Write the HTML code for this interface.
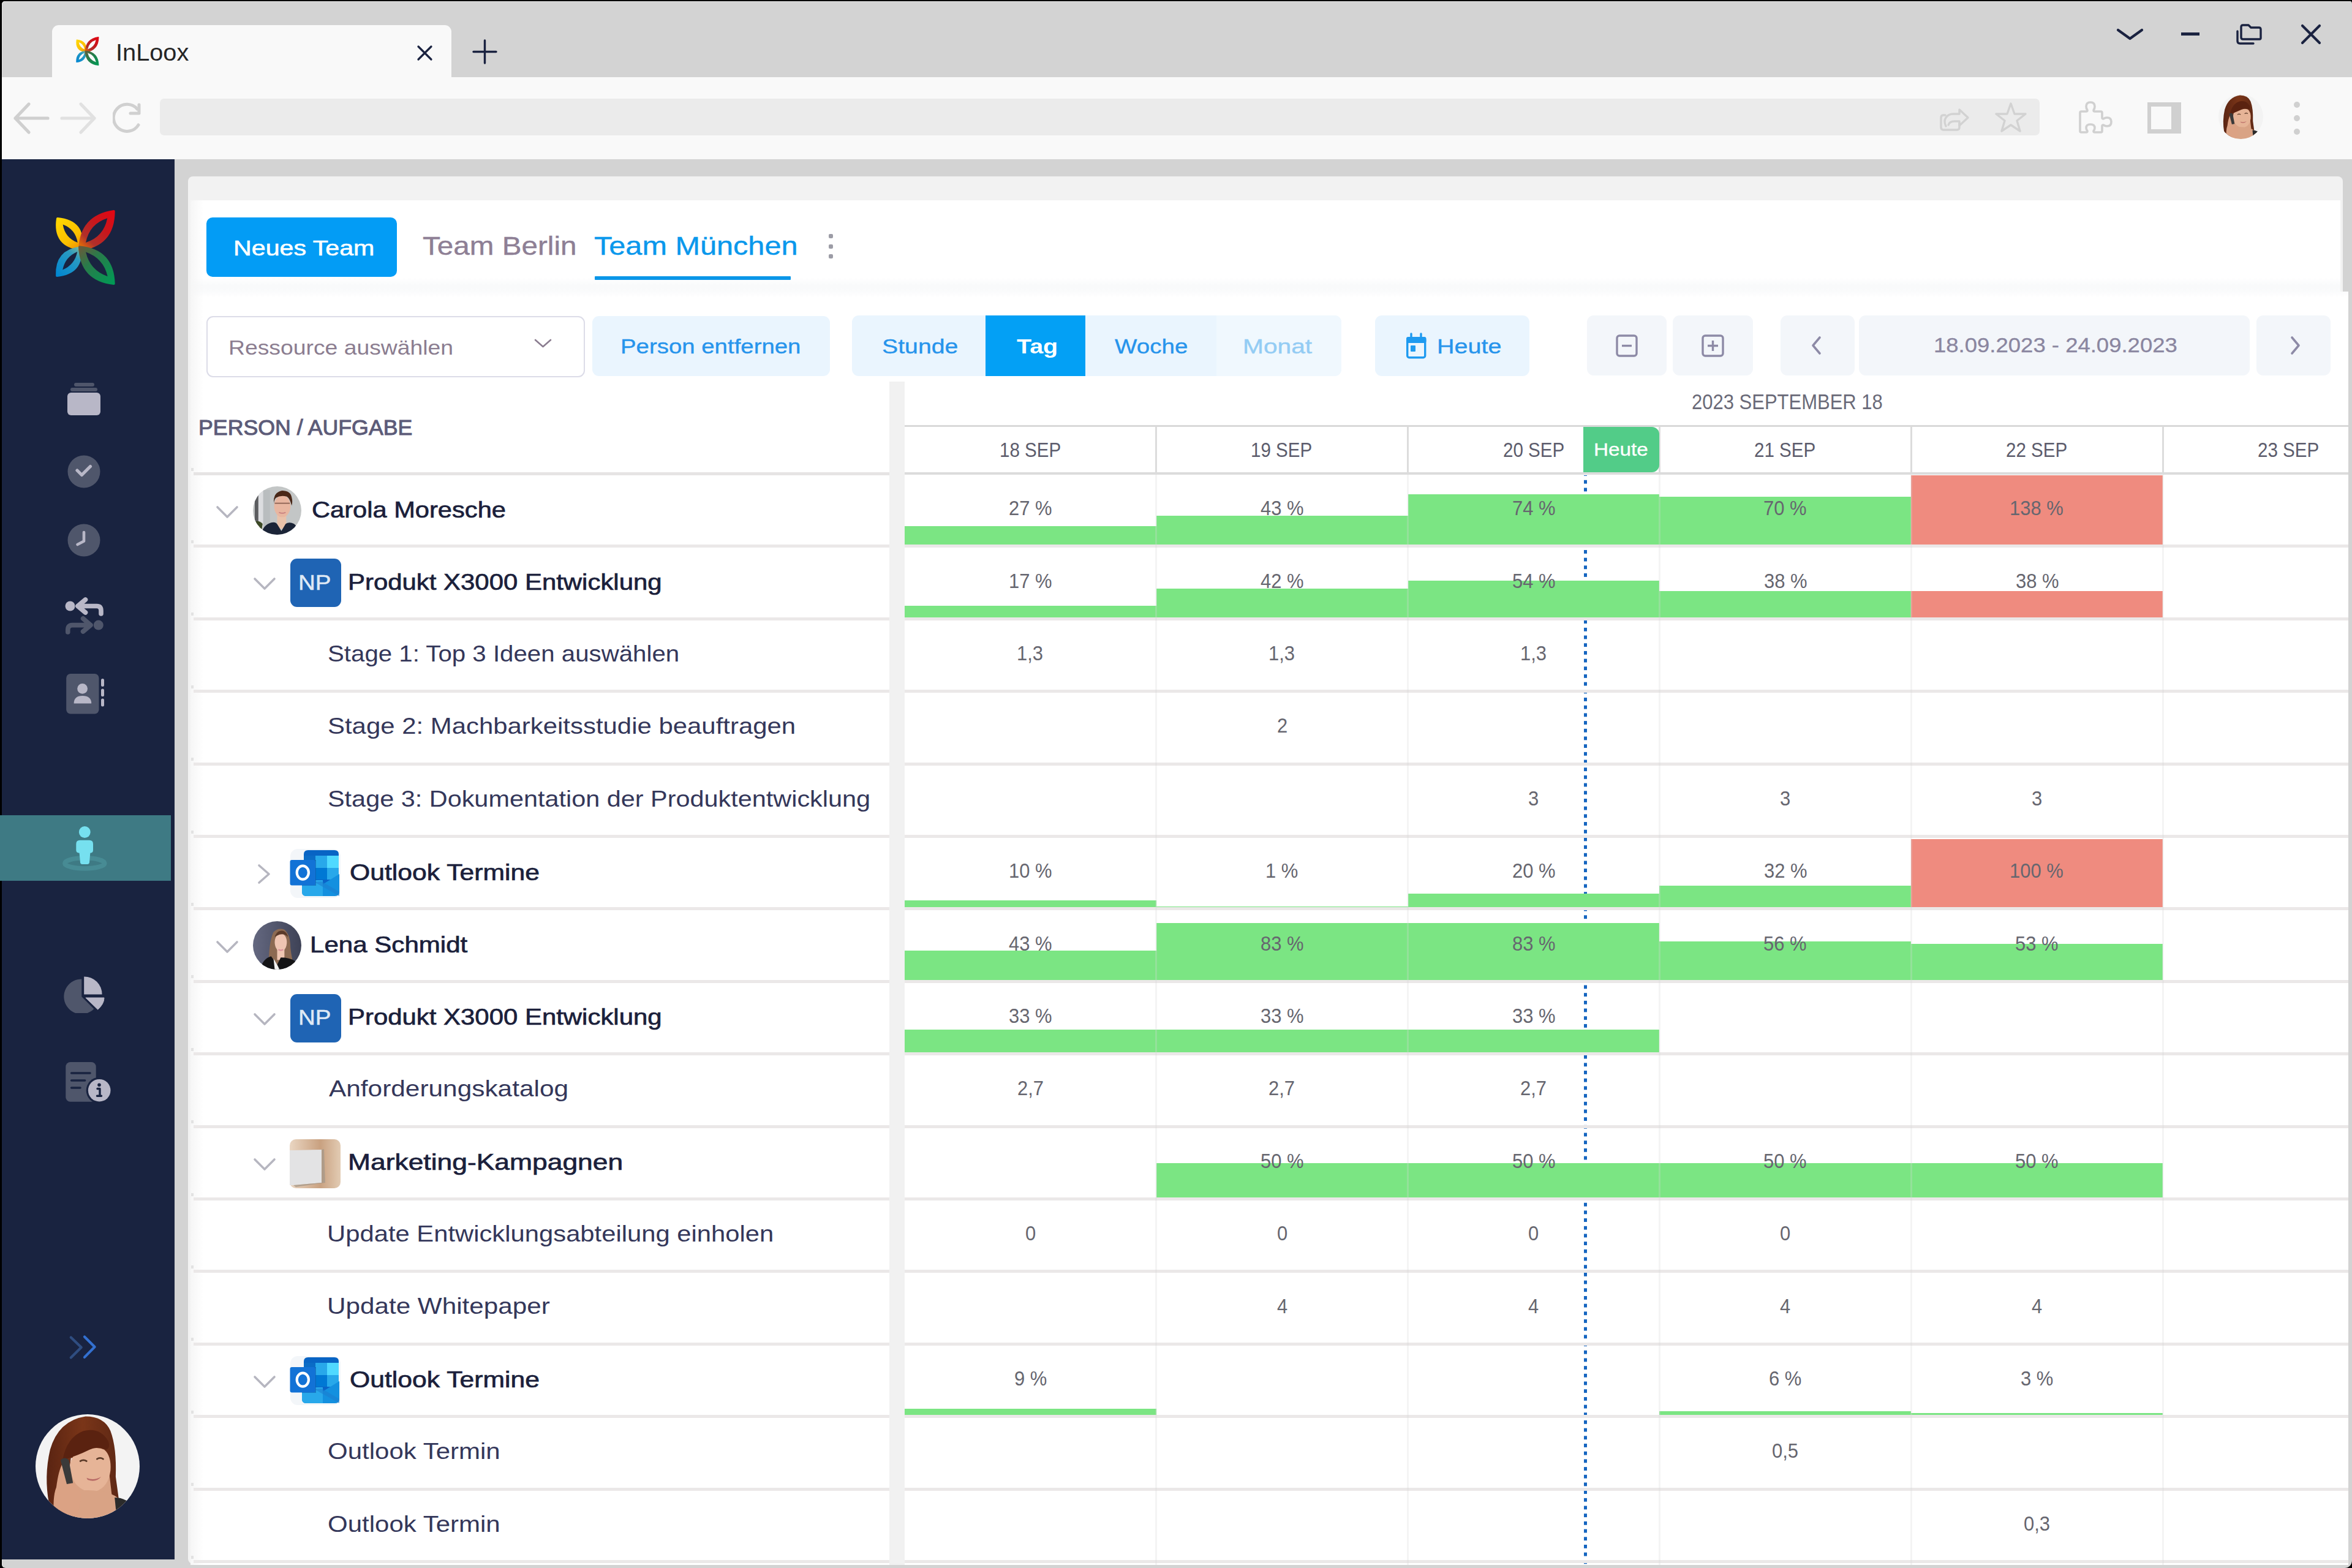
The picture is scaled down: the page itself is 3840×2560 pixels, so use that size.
<!DOCTYPE html>
<html><head><meta charset="utf-8"><title>InLoox</title>
<style>html,body{margin:0;padding:0}body{width:3840px;height:2560px;position:relative;overflow:hidden;background:#000;font-family:'Liberation Sans',sans-serif;}</style>
</head><body>
<div style="position:absolute;left:3.0px;top:2.0px;width:3837.0px;height:2558.0px;background:#d3d3d3;border-radius:5px 4px 12px 6px;box-shadow:inset 1px 1px 0 #e2e2e2;"></div><div style="position:absolute;left:85.0px;top:41.0px;width:652.0px;height:85.0px;background:#f9f9f9;border-radius:11px 11px 0 0;"></div><div style="position:absolute;left:3.0px;top:126.0px;width:3837.0px;height:134.0px;background:#f9f9f9;"></div><div style="position:absolute;left:261.0px;top:161.0px;width:3069.0px;height:60.0px;background:#ebebeb;border-radius:7px;"></div><svg style="position:absolute;left:120.1px;top:55.4px;" width="46.2" height="55.8" viewBox="0 0 1298 1568"><defs>
<linearGradient id="yt" gradientUnits="userSpaceOnUse" x1="560" y1="820" x2="150" y2="300"><stop offset="0" stop-color="#f08c00"/><stop offset="0.35" stop-color="#fbbf00"/><stop offset="1" stop-color="#ffd600"/></linearGradient>
<linearGradient id="rt" gradientUnits="userSpaceOnUse" x1="540" y1="820" x2="1150" y2="160"><stop offset="0" stop-color="#f07a00"/><stop offset="0.25" stop-color="#b0302a"/><stop offset="0.6" stop-color="#c8161c"/><stop offset="1" stop-color="#e30613"/></linearGradient>
<linearGradient id="bt" gradientUnits="userSpaceOnUse" x1="560" y1="800" x2="140" y2="1300"><stop offset="0" stop-color="#7ab8a0"/><stop offset="0.3" stop-color="#2a9ac0"/><stop offset="1" stop-color="#0086d2"/></linearGradient>
<linearGradient id="gt" gradientUnits="userSpaceOnUse" x1="540" y1="800" x2="1150" y2="1440"><stop offset="0" stop-color="#6a5a3a"/><stop offset="0.35" stop-color="#2a7a4a"/><stop offset="1" stop-color="#009a55"/></linearGradient>
</defs><path d="M150 290Q76 772 560 830Q650 336 150 290Z M245 395Q282 631 505 715Q468 479 245 395Z" fill="url(#yt)" fill-rule="evenodd"/><path d="M150 290Q76 772 560 830Q650 336 150 290Z" fill="none" stroke="url(#yt)" stroke-width="40" stroke-linejoin="round"/><path d="M140 1300Q595 1256 560 800Q120 857 140 1300Z M240 1195Q455 1104 500 875Q285 966 240 1195Z" fill="url(#bt)" fill-rule="evenodd"/><path d="M140 1300Q595 1256 560 800Q120 857 140 1300Z" fill="none" stroke="url(#bt)" stroke-width="40" stroke-linejoin="round"/><path d="M1145 160Q559 247 540 840Q1141 766 1145 160Z M1030 285Q713 387 650 715Q967 613 1030 285Z" fill="url(#rt)" fill-rule="evenodd"/><path d="M1145 160Q559 247 540 840Q1141 766 1145 160Z" fill="none" stroke="url(#rt)" stroke-width="40" stroke-linejoin="round"/><path d="M1145 1440Q1128 849 540 790Q564 1374 1145 1440Z M1035 1310Q962 988 650 880Q723 1202 1035 1310Z" fill="url(#gt)" fill-rule="evenodd"/><path d="M1145 1440Q1128 849 540 790Q564 1374 1145 1440Z" fill="none" stroke="url(#gt)" stroke-width="40" stroke-linejoin="round"/></svg><svg style="position:absolute;left:680px;top:73px;" width="27" height="27" viewBox="0 0 27 27"><path d="M3 3L24 24M24 3L3 24" stroke="#1a2240" stroke-width="3.2" stroke-linecap="round"/></svg><svg style="position:absolute;left:771px;top:64px;" width="41" height="41" viewBox="0 0 41 41"><path d="M20.5 2V39M2 20.5H39" stroke="#1a2240" stroke-width="3.4" stroke-linecap="round"/></svg><svg style="position:absolute;left:3455px;top:45px;" width="45" height="22" viewBox="0 0 45 22"><path d="M3 4L22.5 18L42 4" fill="none" stroke="#1a2240" stroke-width="4.2" stroke-linecap="round" stroke-linejoin="round"/></svg><div style="position:absolute;left:3561.0px;top:53.0px;width:30.0px;height:4.5px;background:#1a2240;"></div><svg style="position:absolute;left:3649px;top:38px;" width="46" height="36" viewBox="0 0 46 36"><path d="M10 10V6Q10 3 13 3H22L26 7H39Q42 7 42 10V24Q42 26 40 26H13Q10 26 10 23V10Z" fill="none" stroke="#1a2240" stroke-width="3.4" stroke-linejoin="round"/><path d="M4 13V29Q4 33 8 33H30" fill="none" stroke="#1a2240" stroke-width="3.4" stroke-linecap="round"/></svg><svg style="position:absolute;left:3756px;top:39px;" width="34" height="34" viewBox="0 0 34 34"><path d="M3 3L31 31M31 3L3 31" stroke="#1a2240" stroke-width="4.2" stroke-linecap="round"/></svg><svg style="position:absolute;left:20px;top:166px;" width="62" height="54" viewBox="0 0 62 54"><path d="M27 4L5 27L27 50M5 27H58" fill="none" stroke="#cfcfcf" stroke-width="5.2" stroke-linecap="round" stroke-linejoin="round"/></svg><svg style="position:absolute;left:97px;top:166px;" width="62" height="54" viewBox="0 0 62 54"><path d="M35 4L57 27L35 50M57 27H4" fill="none" stroke="#e1e1e1" stroke-width="5.2" stroke-linecap="round" stroke-linejoin="round"/></svg><svg style="position:absolute;left:184px;top:166px;" width="54" height="54" viewBox="0 0 54 54"><path d="M42 38A22 22 0 1 1 40 12" fill="none" stroke="#d0d0d0" stroke-width="5" stroke-linecap="round"/><path d="M43 5V19H29" fill="none" stroke="#d0d0d0" stroke-width="5" stroke-linecap="round" stroke-linejoin="round"/></svg><svg style="position:absolute;left:3165px;top:168px;" width="54" height="48" viewBox="0 0 54 48"><path d="M11 20H8Q4 20 4 24V40Q4 44 8 44H30Q34 44 34 40V33" fill="none" stroke="#d2d2d2" stroke-width="3.4" stroke-linecap="round"/><path d="M12 38Q8 30 12 24Q16 18 24 18H34V11L48 24L34 37V30H26Q18 30 16 36" fill="none" stroke="#d2d2d2" stroke-width="3.4" stroke-linejoin="round" stroke-linecap="round"/></svg><svg style="position:absolute;left:3257px;top:165px;" width="52" height="52" viewBox="0 0 52 52"><path d="M26 4L32 21H50L36 32L41 49L26 39L11 49L16 32L2 21H20Z" fill="none" stroke="#d2d2d2" stroke-width="3.4" stroke-linejoin="round"/></svg><svg style="position:absolute;left:3392px;top:158px;" width="64" height="62" viewBox="0 0 64 62"><path d="M6 24H14Q16 24 16 22Q14 19 14 16Q14 9 21 9Q28 9 28 16Q28 19 26 22Q26 24 28 24H38Q40 24 40 26V34Q40 36 42 36Q45 34 48 34Q55 34 55 41Q55 48 48 48Q45 48 42 46Q40 46 40 48V56Q40 58 38 58H28Q26 58 26 56Q28 53 28 51Q28 45 21 45Q14 45 14 51Q14 53 16 56Q16 58 14 58H6Q4 58 4 56V26Q4 24 6 24Z" fill="none" stroke="#d0d0d0" stroke-width="3.6" stroke-linejoin="round"/></svg><div style="position:absolute;left:3506.0px;top:167.0px;width:55.0px;height:51.0px;background:#d0d0d0;"></div><div style="position:absolute;left:3512.0px;top:174.0px;width:33.0px;height:37.0px;background:#f9f9f9;"></div><div style="position:absolute;left:3745px;top:166px;width:10px;height:10px;border-radius:50%;background:#d0d0d0"></div><div style="position:absolute;left:3745px;top:188px;width:10px;height:10px;border-radius:50%;background:#d0d0d0"></div><div style="position:absolute;left:3745px;top:210px;width:10px;height:10px;border-radius:50%;background:#d0d0d0"></div><svg style="position:absolute;left:3622px;top:154px;" width="73" height="73" viewBox="0 0 100 100"><defs><clipPath id="cw3622"><circle cx="50" cy="50" r="50"/></clipPath>
<linearGradient id="hw3622" x1="0" y1="0" x2="1" y2="0"><stop offset="0" stop-color="#5a2412"/><stop offset="0.5" stop-color="#7a3518"/><stop offset="1" stop-color="#5e2815"/></linearGradient></defs>
<g clip-path="url(#cw3622)">
<rect width="100" height="100" fill="#f3f3f3"/>
<path d="M13 86Q8 60 14 34Q22 6 48 2Q66 2 72 16Q78 32 77 60Q79 74 80 82L70 84Q66 60 66 40L34 42Q30 70 30 100H16Z" fill="url(#hw3622)"/>
<path d="M34 56L70 50L74 84L32 86Z" fill="#d9a385"/>
<path d="M33 50Q34 38 44 36Q58 30 66 34Q73 40 72 54Q70 70 58 74Q46 76 38 66Q34 60 33 50Z" fill="#e6b497"/>
<path d="M26 44Q30 22 46 16Q62 12 70 26Q72 32 68 34Q60 30 52 34Q40 40 26 44Z" fill="#5a2210"/>
<path d="M28 100Q26 84 36 74Q50 72 62 74Q78 76 84 86L86 100Z" fill="#d9a385"/>
<path d="M18 100Q16 80 20 70Q22 54 26 47Q30 44 31 52Q32 62 36 66Q42 70 44 78Q42 90 40 100Z" fill="#dba284"/>
<path d="M24 44Q28 40 32 44L36 66L30 67Z" fill="#3a3a3a"/>
<path d="M76 80Q88 80 94 90L96 100H78Z" fill="#2b2b2b"/>
<path d="M49 61Q56 64 63 60Q58 66 50 63Z" fill="#b86a66"/>
<path d="M43 45Q46 43 49 45M59 43Q62 41 65 43" fill="none" stroke="#5a3a28" stroke-width="1.6" stroke-linecap="round"/>
</g></svg><div style="position:absolute;left:3.0px;top:260.0px;width:282.0px;height:2286.0px;background:#192340;"></div><svg style="position:absolute;left:80px;top:330px;" width="120" height="145" viewBox="0 0 1298 1568"><defs>
<linearGradient id="ys" gradientUnits="userSpaceOnUse" x1="560" y1="820" x2="150" y2="300"><stop offset="0" stop-color="#f08c00"/><stop offset="0.35" stop-color="#fbbf00"/><stop offset="1" stop-color="#ffd600"/></linearGradient>
<linearGradient id="rs" gradientUnits="userSpaceOnUse" x1="540" y1="820" x2="1150" y2="160"><stop offset="0" stop-color="#f07a00"/><stop offset="0.25" stop-color="#b0302a"/><stop offset="0.6" stop-color="#c8161c"/><stop offset="1" stop-color="#e30613"/></linearGradient>
<linearGradient id="bs" gradientUnits="userSpaceOnUse" x1="560" y1="800" x2="140" y2="1300"><stop offset="0" stop-color="#7ab8a0"/><stop offset="0.3" stop-color="#2a9ac0"/><stop offset="1" stop-color="#0086d2"/></linearGradient>
<linearGradient id="gs" gradientUnits="userSpaceOnUse" x1="540" y1="800" x2="1150" y2="1440"><stop offset="0" stop-color="#6a5a3a"/><stop offset="0.35" stop-color="#2a7a4a"/><stop offset="1" stop-color="#009a55"/></linearGradient>
</defs><path d="M150 290Q76 772 560 830Q650 336 150 290Z M245 395Q282 631 505 715Q468 479 245 395Z" fill="url(#ys)" fill-rule="evenodd"/><path d="M150 290Q76 772 560 830Q650 336 150 290Z" fill="none" stroke="url(#ys)" stroke-width="40" stroke-linejoin="round"/><path d="M140 1300Q595 1256 560 800Q120 857 140 1300Z M240 1195Q455 1104 500 875Q285 966 240 1195Z" fill="url(#bs)" fill-rule="evenodd"/><path d="M140 1300Q595 1256 560 800Q120 857 140 1300Z" fill="none" stroke="url(#bs)" stroke-width="40" stroke-linejoin="round"/><path d="M1145 160Q559 247 540 840Q1141 766 1145 160Z M1030 285Q713 387 650 715Q967 613 1030 285Z" fill="url(#rs)" fill-rule="evenodd"/><path d="M1145 160Q559 247 540 840Q1141 766 1145 160Z" fill="none" stroke="url(#rs)" stroke-width="40" stroke-linejoin="round"/><path d="M1145 1440Q1128 849 540 790Q564 1374 1145 1440Z M1035 1310Q962 988 650 880Q723 1202 1035 1310Z" fill="url(#gs)" fill-rule="evenodd"/><path d="M1145 1440Q1128 849 540 790Q564 1374 1145 1440Z" fill="none" stroke="url(#gs)" stroke-width="40" stroke-linejoin="round"/></svg><div style="position:absolute;left:120.6px;top:625.4px;width:33.0px;height:5.2px;background:#4f566b;border-radius:3px;"></div><div style="position:absolute;left:115.3px;top:633.3px;width:43.3px;height:5.4px;background:#4f566b;border-radius:3px;"></div><div style="position:absolute;left:110.4px;top:641.2px;width:53.3px;height:37.0px;background:#b8b7c7;border-radius:6px;"></div><svg style="position:absolute;left:110px;top:743px;" width="54" height="54" viewBox="0 0 54 54"><circle cx="27" cy="27" r="26.5" fill="#4f566b"/><path d="M16 25L23.5 32.5L37.5 18.5" fill="none" stroke="#b8b7c7" stroke-width="5.2" stroke-linecap="round" stroke-linejoin="round"/></svg><svg style="position:absolute;left:110px;top:855px;" width="54" height="54" viewBox="0 0 54 54"><circle cx="27" cy="27" r="26.5" fill="#4f566b"/><path d="M27 14V28.5L16.5 34" fill="none" stroke="#b8b7c7" stroke-width="4.6" stroke-linecap="round" stroke-linejoin="round"/></svg><svg style="position:absolute;left:104px;top:974px;" width="66" height="64" viewBox="0 0 66 64"><circle cx="10.5" cy="15.5" r="8" fill="#b8b7c7"/><path d="M35.5 5L23 15.5L35.5 26M23 15.5H54Q61 15.5 61 23V28" fill="none" stroke="#b8b7c7" stroke-width="7.6" stroke-linecap="round" stroke-linejoin="round"/><circle cx="56.8" cy="46.6" r="8" fill="#4f566b"/><path d="M31.6 35.8L44 46.6L31.6 57M44 46.6H14Q6.8 46.6 6.8 54V58" fill="none" stroke="#4f566b" stroke-width="7.6" stroke-linecap="round" stroke-linejoin="round"/></svg><svg style="position:absolute;left:106px;top:1098px;" width="68" height="70" viewBox="0 0 68 70"><rect x="2.2" y="2" width="53.3" height="65.5" rx="7" fill="#4f566b"/><circle cx="28.6" cy="26.4" r="8.4" fill="#b8b7c7"/><path d="M14.6 50.6Q14.6 38 28.6 38Q43.2 38 43.2 50.6Z" fill="#b8b7c7"/><path d="M61.5 12.5V20.5M61.5 29V36.7M61.5 45V53" stroke="#b8b7c7" stroke-width="5" stroke-linecap="round"/></svg><div style="position:absolute;left:0.0px;top:1331.3px;width:279.0px;height:107.1px;background:#3e7a84;"></div><svg style="position:absolute;left:96px;top:1344px;" width="86" height="86" viewBox="0 0 86 86"><ellipse cx="42.3" cy="65.4" rx="32.5" ry="8.6" fill="none" stroke="#478b94" stroke-width="7.5"/><circle cx="42.3" cy="14.5" r="9.4" fill="#76e0ef"/><path d="M28.3 34Q28.3 27.8 34.5 27.8H50Q56 27.8 56 34V44Q56 48.6 51.3 48.7L50 64Q49.6 67 46.5 67H38.3Q35.3 67 35 64L33.6 48.7Q28.3 48.6 28.3 44Z" fill="#76e0ef"/></svg><svg style="position:absolute;left:100px;top:1590px;" width="76" height="64" viewBox="0 0 76 64"><path d="M33.3 8.5A28.6 28.6 0 1 0 53.3 57.2L33.3 37.2Z" fill="#4f566b"/><path d="M37.2 4.4A29 29 0 0 1 66.6 33.6H37.2Z" fill="#b8b7c7"/><path d="M39.9 39H70Q70 49 59.7 58.2Z" fill="#b8b7c7" stroke="#b8b7c7" stroke-width="1" stroke-linejoin="round"/></svg><svg style="position:absolute;left:104px;top:1730px;" width="80" height="74" viewBox="0 0 80 74"><rect x="3.3" y="4" width="49.4" height="64.8" rx="7.5" fill="#4f566b"/><path d="M12.7 22H43M12.7 34H34.6M12.7 46H27" stroke="#192340" stroke-width="3.6" stroke-linecap="round"/><circle cx="58.2" cy="50.2" r="21.5" fill="#192340"/><circle cx="58.2" cy="50.2" r="18.3" fill="#b8b7c7"/><circle cx="58" cy="41.2" r="2.8" fill="#192340"/><path d="M55 47.5H59V59M54.5 59.3H61.5" fill="none" stroke="#192340" stroke-width="3.4" stroke-linecap="round" stroke-linejoin="round"/></svg><svg style="position:absolute;left:108px;top:2176px;" width="54" height="46" viewBox="0 0 54 46"><path d="M7.8 7.5L24.7 23.8L7.8 40.6" fill="none" stroke="#2f4d80" stroke-width="4.2" stroke-linecap="round" stroke-linejoin="round"/><path d="M30 6.4L46.6 23L30 39.9" fill="none" stroke="#3370d0" stroke-width="4.2" stroke-linecap="round" stroke-linejoin="round"/></svg><svg style="position:absolute;left:58px;top:2309px;" width="170" height="170" viewBox="0 0 100 100"><defs><clipPath id="cw58"><circle cx="50" cy="50" r="50"/></clipPath>
<linearGradient id="hw58" x1="0" y1="0" x2="1" y2="0"><stop offset="0" stop-color="#5a2412"/><stop offset="0.5" stop-color="#7a3518"/><stop offset="1" stop-color="#5e2815"/></linearGradient></defs>
<g clip-path="url(#cw58)">
<rect width="100" height="100" fill="#f3f3f3"/>
<path d="M13 86Q8 60 14 34Q22 6 48 2Q66 2 72 16Q78 32 77 60Q79 74 80 82L70 84Q66 60 66 40L34 42Q30 70 30 100H16Z" fill="url(#hw58)"/>
<path d="M34 56L70 50L74 84L32 86Z" fill="#d9a385"/>
<path d="M33 50Q34 38 44 36Q58 30 66 34Q73 40 72 54Q70 70 58 74Q46 76 38 66Q34 60 33 50Z" fill="#e6b497"/>
<path d="M26 44Q30 22 46 16Q62 12 70 26Q72 32 68 34Q60 30 52 34Q40 40 26 44Z" fill="#5a2210"/>
<path d="M28 100Q26 84 36 74Q50 72 62 74Q78 76 84 86L86 100Z" fill="#d9a385"/>
<path d="M18 100Q16 80 20 70Q22 54 26 47Q30 44 31 52Q32 62 36 66Q42 70 44 78Q42 90 40 100Z" fill="#dba284"/>
<path d="M24 44Q28 40 32 44L36 66L30 67Z" fill="#3a3a3a"/>
<path d="M76 80Q88 80 94 90L96 100H78Z" fill="#2b2b2b"/>
<path d="M49 61Q56 64 63 60Q58 66 50 63Z" fill="#b86a66"/>
<path d="M43 45Q46 43 49 45M59 43Q62 41 65 43" fill="none" stroke="#5a3a28" stroke-width="1.6" stroke-linecap="round"/>
</g></svg><div style="position:absolute;left:307.0px;top:288.0px;width:3518.0px;height:2265.0px;background:#f2f2f2;border-radius:8px 8px 0 8px;"></div><div style="position:absolute;left:311.0px;top:327.0px;width:3510.0px;height:159.0px;background:#ffffff;border-radius:6px 0 0 0;"></div><div style="position:absolute;left:311.0px;top:453.0px;width:3510.0px;height:33.0px;background:linear-gradient(#ffffff,#f9fafb 40%,#fbfcfc);"></div><div style="position:absolute;left:311.0px;top:476.0px;width:3523.0px;height:2079.0px;background:#ffffff;"></div><div style="position:absolute;left:311.0px;top:476.0px;width:3523.0px;height:10.0px;background:linear-gradient(#fafbfc,#ffffff);"></div><div style="position:absolute;left:311.0px;top:327.0px;width:21.0px;height:2228.0px;background:linear-gradient(90deg,#f6f6f6,rgba(255,255,255,0));"></div><div style="position:absolute;left:336.5px;top:355.0px;width:311.5px;height:97.0px;background:#039cf5;border-radius:10px;"></div><div style="position:absolute;left:971.0px;top:451.0px;width:320.0px;height:6.0px;background:#0b96e8;border-radius:1px;"></div><div style="position:absolute;left:1352.5px;top:381.5px;width:7px;height:7px;border-radius:2px;background:#9c9ca6"></div><div style="position:absolute;left:1352.5px;top:398.5px;width:7px;height:7px;border-radius:2px;background:#9c9ca6"></div><div style="position:absolute;left:1352.5px;top:414.5px;width:7px;height:7px;border-radius:2px;background:#9c9ca6"></div><div style="position:absolute;left:337.0px;top:516.0px;width:618.0px;height:100.0px;background:#ffffff;border:2px solid #dcdce8;border-radius:11px;box-sizing:border-box;"></div><svg style="position:absolute;left:870px;top:550px;" width="34" height="22" viewBox="0 0 34 22"><path d="M4 5L16.5 16L29 5" fill="none" stroke="#8b7d90" stroke-width="2.6" stroke-linecap="round" stroke-linejoin="round"/></svg><div style="position:absolute;left:967.0px;top:516.0px;width:388.0px;height:98.0px;background:#eaf5fe;border-radius:11px;"></div><div style="position:absolute;left:1391.0px;top:515.0px;width:799.0px;height:99.0px;background:#eaf5fe;border-radius:11px;"></div><div style="position:absolute;left:1986.0px;top:515.0px;width:204.0px;height:99.0px;background:#f0f8fe;border-radius:0 11px 11px 0;"></div><div style="position:absolute;left:1609.0px;top:515.0px;width:163.0px;height:99.0px;background:#03a0f5;"></div><div style="position:absolute;left:2245.0px;top:515.0px;width:252.0px;height:99.0px;background:#eaf5fe;border-radius:11px;"></div><svg style="position:absolute;left:2293px;top:542px;" width="38" height="46" viewBox="0 0 38 46"><rect x="4.7" y="9.7" width="29" height="32" rx="3" fill="none" stroke="#1e9af0" stroke-width="3.4"/><rect x="3" y="8" width="32.5" height="10" rx="3" fill="#1e9af0"/><path d="M11 3V9M27 3V9" stroke="#1e9af0" stroke-width="3.4" stroke-linecap="round"/><rect x="10" y="22" width="8" height="10" rx="1" fill="#1e9af0"/></svg><div style="position:absolute;left:2591.0px;top:515.0px;width:130.0px;height:98.0px;background:#f3f6fa;border-radius:11px;"></div><div style="position:absolute;left:2731.0px;top:515.0px;width:131.0px;height:98.0px;background:#f3f6fa;border-radius:11px;"></div><div style="position:absolute;left:2907.0px;top:515.0px;width:121.0px;height:98.0px;background:#f3f6fa;border-radius:11px;"></div><div style="position:absolute;left:3035.0px;top:515.0px;width:638.0px;height:98.0px;background:#f3f6fa;border-radius:11px;"></div><div style="position:absolute;left:3684.0px;top:515.0px;width:121.0px;height:98.0px;background:#f3f6fa;border-radius:11px;"></div><svg style="position:absolute;left:2637px;top:545px;" width="38" height="39" viewBox="0 0 38 39"><rect x="3" y="3" width="32" height="33" rx="4" fill="none" stroke="#8d8aa6" stroke-width="3.4"/><path d="M11 19.5H27" stroke="#8d8aa6" stroke-width="3.4"/></svg><svg style="position:absolute;left:2777px;top:545px;" width="40" height="39" viewBox="0 0 40 39"><rect x="3" y="3" width="33" height="33" rx="4" fill="none" stroke="#8d8aa6" stroke-width="3.4"/><path d="M11 19.5H28M19.5 11V28" stroke="#8d8aa6" stroke-width="3.4"/></svg><svg style="position:absolute;left:2955px;top:547px;" width="22" height="34" viewBox="0 0 22 34"><path d="M16 4L5 17L16 30" fill="none" stroke="#8d8aa6" stroke-width="3.6" stroke-linecap="round" stroke-linejoin="round"/></svg><svg style="position:absolute;left:3736px;top:547px;" width="22" height="34" viewBox="0 0 22 34"><path d="M6 4L17 17L6 30" fill="none" stroke="#8d8aa6" stroke-width="3.6" stroke-linecap="round" stroke-linejoin="round"/></svg><div style="position:absolute;left:1452.0px;top:623.0px;width:25.0px;height:1932.0px;background:#f1f1f1;"></div><div style="position:absolute;left:316.0px;top:771.0px;width:1136.0px;height:5.0px;background:#e6e4e4;"></div><div style="position:absolute;left:1477.0px;top:694.0px;width:2357.0px;height:3.0px;background:#d9d9d9;"></div><div style="position:absolute;left:1477.0px;top:771.0px;width:2357.0px;height:4.0px;background:#dcdcdc;"></div><div style="position:absolute;left:1886.3px;top:697.0px;width:3.0px;height:74.0px;background:#dcdcdc;"></div><div style="position:absolute;left:2297.1px;top:697.0px;width:3.0px;height:74.0px;background:#dcdcdc;"></div><div style="position:absolute;left:2707.9px;top:697.0px;width:3.0px;height:74.0px;background:#dcdcdc;"></div><div style="position:absolute;left:3118.7px;top:697.0px;width:3.0px;height:74.0px;background:#dcdcdc;"></div><div style="position:absolute;left:3529.5px;top:697.0px;width:3.0px;height:74.0px;background:#dcdcdc;"></div><div style="position:absolute;left:2585.0px;top:697.0px;width:124.0px;height:74.0px;background:#52cc88;border-radius:0 12px 12px 0;"></div><div style="position:absolute;left:2586.0px;top:776.0px;width:5.0px;height:1779.0px;background:linear-gradient(#1565c0 0 6px,transparent 6px) 0 7.8px/100% 12.7px repeat-y;"></div><div style="position:absolute;left:1477.0px;top:859.3px;width:410.8px;height:30.1px;background:#7be583;"></div><div style="position:absolute;left:1887.8px;top:841.5px;width:410.8px;height:47.9px;background:#7be583;"></div><div style="position:absolute;left:2298.6px;top:806.9px;width:410.8px;height:82.5px;background:#7be583;"></div><div style="position:absolute;left:2709.4px;top:811.4px;width:410.8px;height:78.0px;background:#7be583;"></div><div style="position:absolute;left:3120.2px;top:776.0px;width:410.8px;height:113.4px;background:#ef8b7f;"></div><div style="position:absolute;left:1477.0px;top:988.8px;width:410.8px;height:19.0px;background:#7be583;"></div><div style="position:absolute;left:1887.8px;top:961.0px;width:410.8px;height:46.8px;background:#7be583;"></div><div style="position:absolute;left:2298.6px;top:947.6px;width:410.8px;height:60.2px;background:#7be583;"></div><div style="position:absolute;left:2709.4px;top:965.4px;width:410.8px;height:42.4px;background:#7be583;"></div><div style="position:absolute;left:3120.2px;top:965.4px;width:410.8px;height:42.4px;background:#ef8b7f;"></div><div style="position:absolute;left:1477.0px;top:1470.2px;width:410.8px;height:11.2px;background:#7be583;"></div><div style="position:absolute;left:1887.8px;top:1480.3px;width:410.8px;height:1.1px;background:#7be583;"></div><div style="position:absolute;left:2298.6px;top:1459.1px;width:410.8px;height:22.3px;background:#7be583;"></div><div style="position:absolute;left:2709.4px;top:1445.7px;width:410.8px;height:35.7px;background:#7be583;"></div><div style="position:absolute;left:3120.2px;top:1369.9px;width:410.8px;height:111.5px;background:#ef8b7f;"></div><div style="position:absolute;left:1477.0px;top:1551.9px;width:410.8px;height:47.9px;background:#7be583;"></div><div style="position:absolute;left:1887.8px;top:1507.3px;width:410.8px;height:92.5px;background:#7be583;"></div><div style="position:absolute;left:2298.6px;top:1507.3px;width:410.8px;height:92.5px;background:#7be583;"></div><div style="position:absolute;left:2709.4px;top:1537.4px;width:410.8px;height:62.4px;background:#7be583;"></div><div style="position:absolute;left:3120.2px;top:1540.7px;width:410.8px;height:59.1px;background:#7be583;"></div><div style="position:absolute;left:1477.0px;top:1681.4px;width:410.8px;height:36.8px;background:#7be583;"></div><div style="position:absolute;left:1887.8px;top:1681.4px;width:410.8px;height:36.8px;background:#7be583;"></div><div style="position:absolute;left:2298.6px;top:1681.4px;width:410.8px;height:36.8px;background:#7be583;"></div><div style="position:absolute;left:1887.8px;top:1899.2px;width:410.8px;height:55.8px;background:#7be583;"></div><div style="position:absolute;left:2298.6px;top:1899.2px;width:410.8px;height:55.8px;background:#7be583;"></div><div style="position:absolute;left:2709.4px;top:1899.2px;width:410.8px;height:55.8px;background:#7be583;"></div><div style="position:absolute;left:3120.2px;top:1899.2px;width:410.8px;height:55.8px;background:#7be583;"></div><div style="position:absolute;left:1477.0px;top:2300.2px;width:410.8px;height:10.0px;background:#7be583;"></div><div style="position:absolute;left:2709.4px;top:2303.5px;width:410.8px;height:6.7px;background:#7be583;"></div><div style="position:absolute;left:3120.2px;top:2306.9px;width:410.8px;height:3.3px;background:#7be583;"></div><div style="position:absolute;left:316.0px;top:889.4px;width:1136.0px;height:5.0px;background:#ebe8e8;"></div><div style="position:absolute;left:1477.0px;top:889.4px;width:2357.0px;height:5.0px;background:#ebe8e8;"></div><div style="position:absolute;left:316.0px;top:1007.8px;width:1136.0px;height:5.0px;background:#ebe8e8;"></div><div style="position:absolute;left:1477.0px;top:1007.8px;width:2357.0px;height:5.0px;background:#ebe8e8;"></div><div style="position:absolute;left:316.0px;top:1126.2px;width:1136.0px;height:5.0px;background:#ebe8e8;"></div><div style="position:absolute;left:1477.0px;top:1126.2px;width:2357.0px;height:5.0px;background:#ebe8e8;"></div><div style="position:absolute;left:316.0px;top:1244.6px;width:1136.0px;height:5.0px;background:#ebe8e8;"></div><div style="position:absolute;left:1477.0px;top:1244.6px;width:2357.0px;height:5.0px;background:#ebe8e8;"></div><div style="position:absolute;left:316.0px;top:1363.0px;width:1136.0px;height:5.0px;background:#ebe8e8;"></div><div style="position:absolute;left:1477.0px;top:1363.0px;width:2357.0px;height:5.0px;background:#ebe8e8;"></div><div style="position:absolute;left:316.0px;top:1481.4px;width:1136.0px;height:5.0px;background:#ebe8e8;"></div><div style="position:absolute;left:1477.0px;top:1481.4px;width:2357.0px;height:5.0px;background:#ebe8e8;"></div><div style="position:absolute;left:316.0px;top:1599.8px;width:1136.0px;height:5.0px;background:#ebe8e8;"></div><div style="position:absolute;left:1477.0px;top:1599.8px;width:2357.0px;height:5.0px;background:#ebe8e8;"></div><div style="position:absolute;left:316.0px;top:1718.2px;width:1136.0px;height:5.0px;background:#ebe8e8;"></div><div style="position:absolute;left:1477.0px;top:1718.2px;width:2357.0px;height:5.0px;background:#ebe8e8;"></div><div style="position:absolute;left:316.0px;top:1836.6px;width:1136.0px;height:5.0px;background:#ebe8e8;"></div><div style="position:absolute;left:1477.0px;top:1836.6px;width:2357.0px;height:5.0px;background:#ebe8e8;"></div><div style="position:absolute;left:316.0px;top:1955.0px;width:1136.0px;height:5.0px;background:#ebe8e8;"></div><div style="position:absolute;left:1477.0px;top:1955.0px;width:2357.0px;height:5.0px;background:#ebe8e8;"></div><div style="position:absolute;left:316.0px;top:2073.4px;width:1136.0px;height:5.0px;background:#ebe8e8;"></div><div style="position:absolute;left:1477.0px;top:2073.4px;width:2357.0px;height:5.0px;background:#ebe8e8;"></div><div style="position:absolute;left:316.0px;top:2191.8px;width:1136.0px;height:5.0px;background:#ebe8e8;"></div><div style="position:absolute;left:1477.0px;top:2191.8px;width:2357.0px;height:5.0px;background:#ebe8e8;"></div><div style="position:absolute;left:316.0px;top:2310.2px;width:1136.0px;height:5.0px;background:#ebe8e8;"></div><div style="position:absolute;left:1477.0px;top:2310.2px;width:2357.0px;height:5.0px;background:#ebe8e8;"></div><div style="position:absolute;left:316.0px;top:2428.6px;width:1136.0px;height:5.0px;background:#ebe8e8;"></div><div style="position:absolute;left:1477.0px;top:2428.6px;width:2357.0px;height:5.0px;background:#ebe8e8;"></div><div style="position:absolute;left:316.0px;top:2547.0px;width:1136.0px;height:5.0px;background:#ebe8e8;"></div><div style="position:absolute;left:1477.0px;top:2547.0px;width:2357.0px;height:5.0px;background:#ebe8e8;"></div><div style="position:absolute;left:311.5px;top:763.5px;width:4.5px;height:5.0px;background:#e2e2e2;"></div><div style="position:absolute;left:311.5px;top:881.9px;width:4.5px;height:5.0px;background:#e2e2e2;"></div><div style="position:absolute;left:311.5px;top:1000.3px;width:4.5px;height:5.0px;background:#e2e2e2;"></div><div style="position:absolute;left:311.5px;top:1118.7px;width:4.5px;height:5.0px;background:#e2e2e2;"></div><div style="position:absolute;left:311.5px;top:1237.1px;width:4.5px;height:5.0px;background:#e2e2e2;"></div><div style="position:absolute;left:311.5px;top:1355.5px;width:4.5px;height:5.0px;background:#e2e2e2;"></div><div style="position:absolute;left:311.5px;top:1473.9px;width:4.5px;height:5.0px;background:#e2e2e2;"></div><div style="position:absolute;left:311.5px;top:1592.3px;width:4.5px;height:5.0px;background:#e2e2e2;"></div><div style="position:absolute;left:311.5px;top:1710.7px;width:4.5px;height:5.0px;background:#e2e2e2;"></div><div style="position:absolute;left:311.5px;top:1829.1px;width:4.5px;height:5.0px;background:#e2e2e2;"></div><div style="position:absolute;left:311.5px;top:1947.5px;width:4.5px;height:5.0px;background:#e2e2e2;"></div><div style="position:absolute;left:311.5px;top:2065.9px;width:4.5px;height:5.0px;background:#e2e2e2;"></div><div style="position:absolute;left:311.5px;top:2184.3px;width:4.5px;height:5.0px;background:#e2e2e2;"></div><div style="position:absolute;left:311.5px;top:2302.7px;width:4.5px;height:5.0px;background:#e2e2e2;"></div><div style="position:absolute;left:311.5px;top:2421.1px;width:4.5px;height:5.0px;background:#e2e2e2;"></div><div style="position:absolute;left:311.5px;top:2539.5px;width:4.5px;height:5.0px;background:#e2e2e2;"></div><div style="position:absolute;left:1886.3px;top:775.0px;width:3.0px;height:1780.0px;background:rgba(215,215,215,0.28);"></div><div style="position:absolute;left:2297.1px;top:775.0px;width:3.0px;height:1780.0px;background:rgba(215,215,215,0.28);"></div><div style="position:absolute;left:2707.9px;top:775.0px;width:3.0px;height:1780.0px;background:rgba(215,215,215,0.28);"></div><div style="position:absolute;left:3118.7px;top:775.0px;width:3.0px;height:1780.0px;background:rgba(215,215,215,0.28);"></div><div style="position:absolute;left:3529.5px;top:775.0px;width:3.0px;height:1780.0px;background:rgba(215,215,215,0.28);"></div><svg style="position:absolute;left:352px;top:823.5px;" width="38" height="24" viewBox="0 0 38 24"><path d="M3 4L19.0 20L35 4" fill="none" stroke="#b6b6c0" stroke-width="3.6" stroke-linecap="round" stroke-linejoin="round"/></svg><svg style="position:absolute;left:413px;top:793.5px;" width="79" height="79" viewBox="0 0 80 80"><defs><clipPath id="cm"><circle cx="40" cy="40" r="40"/></clipPath></defs><g clip-path="url(#cm)">
<rect width="80" height="80" fill="#c3c6c6"/><rect x="3" y="10" width="6" height="56" fill="#5c5d60"/><rect x="9" y="8" width="8" height="60" fill="#dcdde0"/><rect x="17" y="6" width="11" height="62" fill="#b9bdbf"/>
<path d="M4 58Q10 56 16 62L14 74L6 72Z" fill="#3d4a26"/>
<rect x="40" y="46" width="15" height="24" fill="#e9c2aa"/>
<path d="M14 80Q16 64 30 60Q38 58 41 64L47 74L54 62Q60 58 68 62Q76 68 76 80Z" fill="#1b2437"/>
<ellipse cx="48.5" cy="33" rx="13.5" ry="18" fill="#e8b6a0"/>
<path d="M34.5 28Q33 10 48 7Q62 7 64 18Q66 26 64 32Q61 20 56 17Q46 14 38 19Q35 22 34.5 28Z" fill="#4a2818"/>
<path d="M36 28H61" stroke="#8a6050" stroke-width="1.8"/>
<path d="M43 43Q48.5 46 54 43" fill="none" stroke="#c88080" stroke-width="1.8"/></g></svg><svg style="position:absolute;left:413px;top:941.4px;" width="38" height="24" viewBox="0 0 38 24"><path d="M3 4L19.0 20L35 4" fill="none" stroke="#b6b6c0" stroke-width="3.6" stroke-linecap="round" stroke-linejoin="round"/></svg><div style="position:absolute;left:474.0px;top:912.4px;width:83.0px;height:79.0px;background:#1f64b4;border-radius:11px;"></div><span style="position:absolute;left:487px;top:932.8px;font-family:'Liberation Sans',sans-serif;font-size:35px;line-height:35px;color:#dfe9f5;transform:scaleX(1.1);transform-origin:0 0;-webkit-text-stroke:0.5px #dfe9f5">NP</span><svg style="position:absolute;left:418px;top:1409.0px;" width="28" height="36" viewBox="0 0 28 36"><path d="M5 4L21 18L5 32" fill="none" stroke="#b6b6c0" stroke-width="3.6" stroke-linecap="round" stroke-linejoin="round"/></svg><svg style="position:absolute;left:473px;top:1384.5px;" width="84" height="82" viewBox="0 0 84 82"><rect x="1" y="1" width="82" height="80" rx="12" fill="#f3f6f9"/>
<path d="M23 10Q23 3 30 3H73Q80 3 80 10V12H23Z" fill="#0864c4"/>
<rect x="23" y="12" width="57" height="50" fill="#0a64c8"/><rect x="23" y="12" width="19" height="20" fill="#0a6cc6"/><rect x="42" y="12" width="19" height="20" fill="#28a8ea"/><rect x="61" y="12" width="19" height="20" fill="#50d9ff"/>
<rect x="23" y="32" width="19" height="19" fill="#0f6cbd"/><rect x="42" y="32" width="19" height="19" fill="#0078d4"/><rect x="61" y="32" width="19" height="19" fill="#28a8ea"/>
<path d="M20 40L52 60L81 42V71Q81 78 74 78H27Q20 78 20 71Z" fill="#1490df"/>
<path d="M20 52H54V78H27Q20 78 20 71Z" fill="#28a8ea"/>
<path d="M40 55L81 78V71L52 54Z" fill="#1a7fd0" opacity="0.6"/>
<path d="M42 19V60H20" fill="none" stroke="#0b4f94" stroke-width="2" opacity="0.5"/>
<rect x="0.5" y="19" width="41.5" height="41.5" rx="3" fill="#1272d6"/>
<ellipse cx="21.3" cy="39.6" rx="9.6" ry="11" fill="none" stroke="#fff" stroke-width="4.2"/></svg><svg style="position:absolute;left:352px;top:1533.9px;" width="38" height="24" viewBox="0 0 38 24"><path d="M3 4L19.0 20L35 4" fill="none" stroke="#b6b6c0" stroke-width="3.6" stroke-linecap="round" stroke-linejoin="round"/></svg><svg style="position:absolute;left:413px;top:1503.9px;" width="79" height="79" viewBox="0 0 80 80"><defs><clipPath id="cl"><circle cx="40" cy="40" r="40"/></clipPath><linearGradient id="lb" x1="0" y1="0" x2="1" y2="0"><stop offset="0" stop-color="#646880"/><stop offset="1" stop-color="#3e4256"/></linearGradient></defs><g clip-path="url(#cl)">
<rect width="80" height="80" fill="url(#lb)"/>
<path d="M26 74Q26 34 34 18Q42 10 52 14Q62 22 62 44Q64 62 68 74Z" fill="#8c6a52"/>
<rect x="40" y="44" width="12" height="20" fill="#efc6b2"/>
<ellipse cx="46" cy="35" rx="10" ry="15" fill="#efc5b2"/>
<path d="M36 26Q40 14 50 16Q56 18 58 26Q52 20 44 22Q39 24 36 26Z" fill="#5a3a2a"/>
<path d="M12 80Q16 62 30 58L40 72L46 60Q60 60 70 66Q76 72 76 80Z" fill="#141416"/>
<path d="M34 62L40 72L44 80H36Z" fill="#f2f2f2"/>
<path d="M42 47Q46 49 50 47" fill="none" stroke="#d88a98" stroke-width="2"/></g></svg><svg style="position:absolute;left:413px;top:1651.8000000000002px;" width="38" height="24" viewBox="0 0 38 24"><path d="M3 4L19.0 20L35 4" fill="none" stroke="#b6b6c0" stroke-width="3.6" stroke-linecap="round" stroke-linejoin="round"/></svg><div style="position:absolute;left:474.0px;top:1622.8px;width:83.0px;height:79.0px;background:#1f64b4;border-radius:11px;"></div><span style="position:absolute;left:487px;top:1643.2000000000003px;font-family:'Liberation Sans',sans-serif;font-size:35px;line-height:35px;color:#dfe9f5;transform:scaleX(1.1);transform-origin:0 0;-webkit-text-stroke:0.5px #dfe9f5">NP</span><svg style="position:absolute;left:413px;top:1888.6000000000001px;" width="38" height="24" viewBox="0 0 38 24"><path d="M3 4L19.0 20L35 4" fill="none" stroke="#b6b6c0" stroke-width="3.6" stroke-linecap="round" stroke-linejoin="round"/></svg><svg style="position:absolute;left:473px;top:1859.6000000000001px;" width="83" height="80" viewBox="0 0 83 80"><defs><linearGradient id="mk" x1="0" y1="0" x2="1" y2="0"><stop offset="0" stop-color="#ead6c2"/><stop offset="0.6" stop-color="#c9a180"/><stop offset="1" stop-color="#e2cbb3"/></linearGradient></defs>
<rect x="0" y="0" width="83" height="80" rx="10" fill="url(#mk)"/>
<path d="M0 18H6L52 17V71L6 75H0Z" fill="#e3e3e4"/>
<path d="M52 17L56 16L58 71L10 78L6 75L52 71Z" fill="#a89888" opacity="0.8"/></svg><svg style="position:absolute;left:413px;top:2243.8px;" width="38" height="24" viewBox="0 0 38 24"><path d="M3 4L19.0 20L35 4" fill="none" stroke="#b6b6c0" stroke-width="3.6" stroke-linecap="round" stroke-linejoin="round"/></svg><svg style="position:absolute;left:473px;top:2213.3px;" width="84" height="82" viewBox="0 0 84 82"><rect x="1" y="1" width="82" height="80" rx="12" fill="#f3f6f9"/>
<path d="M23 10Q23 3 30 3H73Q80 3 80 10V12H23Z" fill="#0864c4"/>
<rect x="23" y="12" width="57" height="50" fill="#0a64c8"/><rect x="23" y="12" width="19" height="20" fill="#0a6cc6"/><rect x="42" y="12" width="19" height="20" fill="#28a8ea"/><rect x="61" y="12" width="19" height="20" fill="#50d9ff"/>
<rect x="23" y="32" width="19" height="19" fill="#0f6cbd"/><rect x="42" y="32" width="19" height="19" fill="#0078d4"/><rect x="61" y="32" width="19" height="19" fill="#28a8ea"/>
<path d="M20 40L52 60L81 42V71Q81 78 74 78H27Q20 78 20 71Z" fill="#1490df"/>
<path d="M20 52H54V78H27Q20 78 20 71Z" fill="#28a8ea"/>
<path d="M40 55L81 78V71L52 54Z" fill="#1a7fd0" opacity="0.6"/>
<path d="M42 19V60H20" fill="none" stroke="#0b4f94" stroke-width="2" opacity="0.5"/>
<rect x="0.5" y="19" width="41.5" height="41.5" rx="3" fill="#1272d6"/>
<ellipse cx="21.3" cy="39.6" rx="9.6" ry="11" fill="none" stroke="#fff" stroke-width="4.2"/></svg><span style="position:absolute;left:188.9px;top:66.7px;font-family:'Liberation Sans',sans-serif;font-size:38px;font-weight:400;line-height:38px;white-space:nowrap;color:#262626;transform:scaleX(1.0455);transform-origin:0 0;">InLoox</span><span style="position:absolute;left:380.5px;top:386.9px;font-family:'Liberation Sans',sans-serif;font-size:35px;font-weight:400;line-height:35px;white-space:nowrap;color:#ffffff;transform:scaleX(1.1763);transform-origin:0 0;-webkit-text-stroke:0.6px #fff">Neues Team</span><span style="position:absolute;left:689.9px;top:380.1px;font-family:'Liberation Sans',sans-serif;font-size:43px;font-weight:400;line-height:43px;white-space:nowrap;color:#8e7f95;transform:scaleX(1.1076);transform-origin:0 0;-webkit-text-stroke:0.4px #8e7f95">Team Berlin</span><span style="position:absolute;left:969.9px;top:380.1px;font-family:'Liberation Sans',sans-serif;font-size:43px;font-weight:400;line-height:43px;white-space:nowrap;color:#0a98ec;transform:scaleX(1.1310);transform-origin:0 0;-webkit-text-stroke:0.4px #0a98ec">Team München</span><span style="position:absolute;left:372.7px;top:550.1px;font-family:'Liberation Sans',sans-serif;font-size:34px;font-weight:400;line-height:34px;white-space:nowrap;color:#8b7d90;transform:scaleX(1.0973);transform-origin:0 0;">Ressource auswählen</span><span style="position:absolute;left:1012.6px;top:548.1px;font-family:'Liberation Sans',sans-serif;font-size:34px;font-weight:400;line-height:34px;white-space:nowrap;color:#2694ec;transform:scaleX(1.1289);transform-origin:0 0;-webkit-text-stroke:0.35px #2694ec">Person entfernen</span><span style="position:absolute;left:1439.7px;top:548.1px;font-family:'Liberation Sans',sans-serif;font-size:34px;font-weight:400;line-height:34px;white-space:nowrap;color:#2694ec;transform:scaleX(1.1538);transform-origin:0 0;-webkit-text-stroke:0.35px #2694ec">Stunde</span><span style="position:absolute;left:1660.0px;top:548.1px;font-family:'Liberation Sans',sans-serif;font-size:34px;font-weight:700;line-height:34px;white-space:nowrap;color:#ffffff;transform:scaleX(1.1607);transform-origin:0 0;">Tag</span><span style="position:absolute;left:1820.0px;top:548.1px;font-family:'Liberation Sans',sans-serif;font-size:34px;font-weight:400;line-height:34px;white-space:nowrap;color:#2694ec;transform:scaleX(1.1346);transform-origin:0 0;-webkit-text-stroke:0.35px #2694ec">Woche</span><span style="position:absolute;left:2029.4px;top:548.1px;font-family:'Liberation Sans',sans-serif;font-size:34px;font-weight:400;line-height:34px;white-space:nowrap;color:#93ccf4;transform:scaleX(1.1978);transform-origin:0 0;-webkit-text-stroke:0.4px #93ccf4">Monat</span><span style="position:absolute;left:2345.5px;top:548.1px;font-family:'Liberation Sans',sans-serif;font-size:34px;font-weight:400;line-height:34px;white-space:nowrap;color:#2694ec;transform:scaleX(1.1628);transform-origin:0 0;-webkit-text-stroke:0.35px #2694ec">Heute</span><span style="position:absolute;left:3156.9px;top:546.1px;font-family:'Liberation Sans',sans-serif;font-size:34px;font-weight:400;line-height:34px;white-space:nowrap;color:#8a86a0;transform:scaleX(1.0736);transform-origin:0 0;-webkit-text-stroke:0.3px #8a86a0">18.09.2023 - 24.09.2023</span><span style="position:absolute;left:2762.2px;top:638.2px;font-family:'Liberation Sans',sans-serif;font-size:35px;font-weight:400;line-height:35px;white-space:nowrap;color:#6a6a78;transform:scaleX(0.8854);transform-origin:0 0;">2023 SEPTEMBER 18</span><span style="position:absolute;left:324.0px;top:680.2px;font-family:'Liberation Sans',sans-serif;font-size:35px;font-weight:400;line-height:35px;white-space:nowrap;color:#5c5b78;transform:scaleX(1.0206);transform-origin:0 0;-webkit-text-stroke:1px #5c5b78">PERSON / AUFGABE</span><span style="position:absolute;left:1631.5px;top:717.1px;font-family:'Liberation Sans',sans-serif;font-size:34px;font-weight:400;line-height:34px;white-space:nowrap;color:#5c5c6c;transform:scaleX(0.8700);transform-origin:0 0;">18 SEP</span><span style="position:absolute;left:2042.3px;top:717.1px;font-family:'Liberation Sans',sans-serif;font-size:34px;font-weight:400;line-height:34px;white-space:nowrap;color:#5c5c6c;transform:scaleX(0.8700);transform-origin:0 0;">19 SEP</span><span style="position:absolute;left:2453.5px;top:717.1px;font-family:'Liberation Sans',sans-serif;font-size:34px;font-weight:400;line-height:34px;white-space:nowrap;color:#5c5c6c;transform:scaleX(0.8700);transform-origin:0 0;">20 SEP</span><span style="position:absolute;left:2864.3px;top:717.1px;font-family:'Liberation Sans',sans-serif;font-size:34px;font-weight:400;line-height:34px;white-space:nowrap;color:#5c5c6c;transform:scaleX(0.8700);transform-origin:0 0;">21 SEP</span><span style="position:absolute;left:3275.1px;top:717.1px;font-family:'Liberation Sans',sans-serif;font-size:34px;font-weight:400;line-height:34px;white-space:nowrap;color:#5c5c6c;transform:scaleX(0.8700);transform-origin:0 0;">22 SEP</span><span style="position:absolute;left:3685.9px;top:717.1px;font-family:'Liberation Sans',sans-serif;font-size:34px;font-weight:400;line-height:34px;white-space:nowrap;color:#5c5c6c;transform:scaleX(0.8700);transform-origin:0 0;">23 SEP</span><span style="position:absolute;left:2601.7px;top:720.4px;font-family:'Liberation Sans',sans-serif;font-size:29px;font-weight:400;line-height:29px;white-space:nowrap;color:#ffffff;transform:scaleX(1.1486);transform-origin:0 0;-webkit-text-stroke:0.3px #fff">Heute</span><span style="position:absolute;left:508.9px;top:813.5px;font-family:'Liberation Sans',sans-serif;font-size:37px;font-weight:400;line-height:37px;white-space:nowrap;color:#1b1f3b;transform:scaleX(1.1250);transform-origin:0 0;-webkit-text-stroke:0.7px #1b1f3b">Carola Moresche</span><span style="position:absolute;left:1646.9px;top:812.1px;font-family:'Liberation Sans',sans-serif;font-size:34px;font-weight:400;line-height:34px;white-space:nowrap;color:#66666f;transform:scaleX(0.9100);transform-origin:0 0;">27 %</span><span style="position:absolute;left:2058.2px;top:812.1px;font-family:'Liberation Sans',sans-serif;font-size:34px;font-weight:400;line-height:34px;white-space:nowrap;color:#66666f;transform:scaleX(0.9100);transform-origin:0 0;">43 %</span><span style="position:absolute;left:2468.5px;top:812.1px;font-family:'Liberation Sans',sans-serif;font-size:34px;font-weight:400;line-height:34px;white-space:nowrap;color:#66666f;transform:scaleX(0.9100);transform-origin:0 0;">74 %</span><span style="position:absolute;left:2879.3px;top:812.1px;font-family:'Liberation Sans',sans-serif;font-size:34px;font-weight:400;line-height:34px;white-space:nowrap;color:#66666f;transform:scaleX(0.9100);transform-origin:0 0;">70 %</span><span style="position:absolute;left:3281.0px;top:812.1px;font-family:'Liberation Sans',sans-serif;font-size:34px;font-weight:400;line-height:34px;white-space:nowrap;color:#66666f;transform:scaleX(0.9100);transform-origin:0 0;">138 %</span><span style="position:absolute;left:567.6px;top:931.9px;font-family:'Liberation Sans',sans-serif;font-size:37px;font-weight:400;line-height:37px;white-space:nowrap;color:#1b1f3b;transform:scaleX(1.1328);transform-origin:0 0;-webkit-text-stroke:0.7px #1b1f3b">Produkt X3000 Entwicklung</span><span style="position:absolute;left:1646.5px;top:930.5px;font-family:'Liberation Sans',sans-serif;font-size:34px;font-weight:400;line-height:34px;white-space:nowrap;color:#66666f;transform:scaleX(0.9100);transform-origin:0 0;">17 %</span><span style="position:absolute;left:2058.2px;top:930.5px;font-family:'Liberation Sans',sans-serif;font-size:34px;font-weight:400;line-height:34px;white-space:nowrap;color:#66666f;transform:scaleX(0.9100);transform-origin:0 0;">42 %</span><span style="position:absolute;left:2468.5px;top:930.5px;font-family:'Liberation Sans',sans-serif;font-size:34px;font-weight:400;line-height:34px;white-space:nowrap;color:#66666f;transform:scaleX(0.9100);transform-origin:0 0;">54 %</span><span style="position:absolute;left:2879.8px;top:930.5px;font-family:'Liberation Sans',sans-serif;font-size:34px;font-weight:400;line-height:34px;white-space:nowrap;color:#66666f;transform:scaleX(0.9100);transform-origin:0 0;">38 %</span><span style="position:absolute;left:3290.6px;top:930.5px;font-family:'Liberation Sans',sans-serif;font-size:34px;font-weight:400;line-height:34px;white-space:nowrap;color:#66666f;transform:scaleX(0.9100);transform-origin:0 0;">38 %</span><span style="position:absolute;left:534.8px;top:1049.7px;font-family:'Liberation Sans',sans-serif;font-size:36px;font-weight:400;line-height:36px;white-space:nowrap;color:#34375a;transform:scaleX(1.1176);transform-origin:0 0;">Stage 1: Top 3 Ideen auswählen</span><span style="position:absolute;left:1660.1px;top:1048.9px;font-family:'Liberation Sans',sans-serif;font-size:34px;font-weight:400;line-height:34px;white-space:nowrap;color:#66666f;transform:scaleX(0.9100);transform-origin:0 0;">1,3</span><span style="position:absolute;left:2070.9px;top:1048.9px;font-family:'Liberation Sans',sans-serif;font-size:34px;font-weight:400;line-height:34px;white-space:nowrap;color:#66666f;transform:scaleX(0.9100);transform-origin:0 0;">1,3</span><span style="position:absolute;left:2481.7px;top:1048.9px;font-family:'Liberation Sans',sans-serif;font-size:34px;font-weight:400;line-height:34px;white-space:nowrap;color:#66666f;transform:scaleX(0.9100);transform-origin:0 0;">1,3</span><span style="position:absolute;left:534.7px;top:1168.1px;font-family:'Liberation Sans',sans-serif;font-size:36px;font-weight:400;line-height:36px;white-space:nowrap;color:#34375a;transform:scaleX(1.1641);transform-origin:0 0;">Stage 2: Machbarkeitsstudie beauftragen</span><span style="position:absolute;left:2084.6px;top:1167.3px;font-family:'Liberation Sans',sans-serif;font-size:34px;font-weight:400;line-height:34px;white-space:nowrap;color:#66666f;transform:scaleX(0.9100);transform-origin:0 0;">2</span><span style="position:absolute;left:534.7px;top:1286.5px;font-family:'Liberation Sans',sans-serif;font-size:36px;font-weight:400;line-height:36px;white-space:nowrap;color:#34375a;transform:scaleX(1.1501);transform-origin:0 0;">Stage 3: Dokumentation der Produktentwicklung</span><span style="position:absolute;left:2495.4px;top:1285.7px;font-family:'Liberation Sans',sans-serif;font-size:34px;font-weight:400;line-height:34px;white-space:nowrap;color:#66666f;transform:scaleX(0.9100);transform-origin:0 0;">3</span><span style="position:absolute;left:2906.2px;top:1285.7px;font-family:'Liberation Sans',sans-serif;font-size:34px;font-weight:400;line-height:34px;white-space:nowrap;color:#66666f;transform:scaleX(0.9100);transform-origin:0 0;">3</span><span style="position:absolute;left:3317.0px;top:1285.7px;font-family:'Liberation Sans',sans-serif;font-size:34px;font-weight:400;line-height:34px;white-space:nowrap;color:#66666f;transform:scaleX(0.9100);transform-origin:0 0;">3</span><span style="position:absolute;left:570.8px;top:1405.5px;font-family:'Liberation Sans',sans-serif;font-size:37px;font-weight:400;line-height:37px;white-space:nowrap;color:#1b1f3b;transform:scaleX(1.1536);transform-origin:0 0;-webkit-text-stroke:0.7px #1b1f3b">Outlook Termine</span><span style="position:absolute;left:1646.5px;top:1404.1px;font-family:'Liberation Sans',sans-serif;font-size:34px;font-weight:400;line-height:34px;white-space:nowrap;color:#66666f;transform:scaleX(0.9100);transform-origin:0 0;">10 %</span><span style="position:absolute;left:2065.9px;top:1404.1px;font-family:'Liberation Sans',sans-serif;font-size:34px;font-weight:400;line-height:34px;white-space:nowrap;color:#66666f;transform:scaleX(0.9100);transform-origin:0 0;">1 %</span><span style="position:absolute;left:2468.5px;top:1404.1px;font-family:'Liberation Sans',sans-serif;font-size:34px;font-weight:400;line-height:34px;white-space:nowrap;color:#66666f;transform:scaleX(0.9100);transform-origin:0 0;">20 %</span><span style="position:absolute;left:2879.8px;top:1404.1px;font-family:'Liberation Sans',sans-serif;font-size:34px;font-weight:400;line-height:34px;white-space:nowrap;color:#66666f;transform:scaleX(0.9100);transform-origin:0 0;">32 %</span><span style="position:absolute;left:3281.0px;top:1404.1px;font-family:'Liberation Sans',sans-serif;font-size:34px;font-weight:400;line-height:34px;white-space:nowrap;color:#66666f;transform:scaleX(0.9100);transform-origin:0 0;">100 %</span><span style="position:absolute;left:505.6px;top:1524.0px;font-family:'Liberation Sans',sans-serif;font-size:37px;font-weight:400;line-height:37px;white-space:nowrap;color:#1b1f3b;transform:scaleX(1.1371);transform-origin:0 0;-webkit-text-stroke:0.7px #1b1f3b">Lena Schmidt</span><span style="position:absolute;left:1647.4px;top:1522.5px;font-family:'Liberation Sans',sans-serif;font-size:34px;font-weight:400;line-height:34px;white-space:nowrap;color:#66666f;transform:scaleX(0.9100);transform-origin:0 0;">43 %</span><span style="position:absolute;left:2058.2px;top:1522.5px;font-family:'Liberation Sans',sans-serif;font-size:34px;font-weight:400;line-height:34px;white-space:nowrap;color:#66666f;transform:scaleX(0.9100);transform-origin:0 0;">83 %</span><span style="position:absolute;left:2469.0px;top:1522.5px;font-family:'Liberation Sans',sans-serif;font-size:34px;font-weight:400;line-height:34px;white-space:nowrap;color:#66666f;transform:scaleX(0.9100);transform-origin:0 0;">83 %</span><span style="position:absolute;left:2879.3px;top:1522.5px;font-family:'Liberation Sans',sans-serif;font-size:34px;font-weight:400;line-height:34px;white-space:nowrap;color:#66666f;transform:scaleX(0.9100);transform-origin:0 0;">56 %</span><span style="position:absolute;left:3290.1px;top:1522.5px;font-family:'Liberation Sans',sans-serif;font-size:34px;font-weight:400;line-height:34px;white-space:nowrap;color:#66666f;transform:scaleX(0.9100);transform-origin:0 0;">53 %</span><span style="position:absolute;left:567.6px;top:1642.4px;font-family:'Liberation Sans',sans-serif;font-size:37px;font-weight:400;line-height:37px;white-space:nowrap;color:#1b1f3b;transform:scaleX(1.1328);transform-origin:0 0;-webkit-text-stroke:0.7px #1b1f3b">Produkt X3000 Entwicklung</span><span style="position:absolute;left:1647.4px;top:1640.9px;font-family:'Liberation Sans',sans-serif;font-size:34px;font-weight:400;line-height:34px;white-space:nowrap;color:#66666f;transform:scaleX(0.9100);transform-origin:0 0;">33 %</span><span style="position:absolute;left:2058.2px;top:1640.9px;font-family:'Liberation Sans',sans-serif;font-size:34px;font-weight:400;line-height:34px;white-space:nowrap;color:#66666f;transform:scaleX(0.9100);transform-origin:0 0;">33 %</span><span style="position:absolute;left:2469.0px;top:1640.9px;font-family:'Liberation Sans',sans-serif;font-size:34px;font-weight:400;line-height:34px;white-space:nowrap;color:#66666f;transform:scaleX(0.9100);transform-origin:0 0;">33 %</span><span style="position:absolute;left:537.0px;top:1760.1px;font-family:'Liberation Sans',sans-serif;font-size:36px;font-weight:400;line-height:36px;white-space:nowrap;color:#34375a;transform:scaleX(1.1770);transform-origin:0 0;">Anforderungskatalog</span><span style="position:absolute;left:1660.6px;top:1759.3px;font-family:'Liberation Sans',sans-serif;font-size:34px;font-weight:400;line-height:34px;white-space:nowrap;color:#66666f;transform:scaleX(0.9100);transform-origin:0 0;">2,7</span><span style="position:absolute;left:2071.4px;top:1759.3px;font-family:'Liberation Sans',sans-serif;font-size:34px;font-weight:400;line-height:34px;white-space:nowrap;color:#66666f;transform:scaleX(0.9100);transform-origin:0 0;">2,7</span><span style="position:absolute;left:2482.2px;top:1759.3px;font-family:'Liberation Sans',sans-serif;font-size:34px;font-weight:400;line-height:34px;white-space:nowrap;color:#66666f;transform:scaleX(0.9100);transform-origin:0 0;">2,7</span><span style="position:absolute;left:568.4px;top:1879.2px;font-family:'Liberation Sans',sans-serif;font-size:37px;font-weight:400;line-height:37px;white-space:nowrap;color:#1b1f3b;transform:scaleX(1.2000);transform-origin:0 0;-webkit-text-stroke:0.7px #1b1f3b">Marketing-Kampagnen</span><span style="position:absolute;left:2057.7px;top:1877.7px;font-family:'Liberation Sans',sans-serif;font-size:34px;font-weight:400;line-height:34px;white-space:nowrap;color:#66666f;transform:scaleX(0.9100);transform-origin:0 0;">50 %</span><span style="position:absolute;left:2468.5px;top:1877.7px;font-family:'Liberation Sans',sans-serif;font-size:34px;font-weight:400;line-height:34px;white-space:nowrap;color:#66666f;transform:scaleX(0.9100);transform-origin:0 0;">50 %</span><span style="position:absolute;left:2879.3px;top:1877.7px;font-family:'Liberation Sans',sans-serif;font-size:34px;font-weight:400;line-height:34px;white-space:nowrap;color:#66666f;transform:scaleX(0.9100);transform-origin:0 0;">50 %</span><span style="position:absolute;left:3290.1px;top:1877.7px;font-family:'Liberation Sans',sans-serif;font-size:34px;font-weight:400;line-height:34px;white-space:nowrap;color:#66666f;transform:scaleX(0.9100);transform-origin:0 0;">50 %</span><span style="position:absolute;left:533.5px;top:1996.9px;font-family:'Liberation Sans',sans-serif;font-size:36px;font-weight:400;line-height:36px;white-space:nowrap;color:#34375a;transform:scaleX(1.1605);transform-origin:0 0;">Update Entwicklungsabteilung einholen</span><span style="position:absolute;left:1673.8px;top:1996.1px;font-family:'Liberation Sans',sans-serif;font-size:34px;font-weight:400;line-height:34px;white-space:nowrap;color:#66666f;transform:scaleX(0.9100);transform-origin:0 0;">0</span><span style="position:absolute;left:2084.6px;top:1996.1px;font-family:'Liberation Sans',sans-serif;font-size:34px;font-weight:400;line-height:34px;white-space:nowrap;color:#66666f;transform:scaleX(0.9100);transform-origin:0 0;">0</span><span style="position:absolute;left:2495.4px;top:1996.1px;font-family:'Liberation Sans',sans-serif;font-size:34px;font-weight:400;line-height:34px;white-space:nowrap;color:#66666f;transform:scaleX(0.9100);transform-origin:0 0;">0</span><span style="position:absolute;left:2906.2px;top:1996.1px;font-family:'Liberation Sans',sans-serif;font-size:34px;font-weight:400;line-height:34px;white-space:nowrap;color:#66666f;transform:scaleX(0.9100);transform-origin:0 0;">0</span><span style="position:absolute;left:533.5px;top:2115.3px;font-family:'Liberation Sans',sans-serif;font-size:36px;font-weight:400;line-height:36px;white-space:nowrap;color:#34375a;transform:scaleX(1.1726);transform-origin:0 0;">Update Whitepaper</span><span style="position:absolute;left:2084.6px;top:2114.5px;font-family:'Liberation Sans',sans-serif;font-size:34px;font-weight:400;line-height:34px;white-space:nowrap;color:#66666f;transform:scaleX(0.9100);transform-origin:0 0;">4</span><span style="position:absolute;left:2495.4px;top:2114.5px;font-family:'Liberation Sans',sans-serif;font-size:34px;font-weight:400;line-height:34px;white-space:nowrap;color:#66666f;transform:scaleX(0.9100);transform-origin:0 0;">4</span><span style="position:absolute;left:2906.2px;top:2114.5px;font-family:'Liberation Sans',sans-serif;font-size:34px;font-weight:400;line-height:34px;white-space:nowrap;color:#66666f;transform:scaleX(0.9100);transform-origin:0 0;">4</span><span style="position:absolute;left:3317.0px;top:2114.5px;font-family:'Liberation Sans',sans-serif;font-size:34px;font-weight:400;line-height:34px;white-space:nowrap;color:#66666f;transform:scaleX(0.9100);transform-origin:0 0;">4</span><span style="position:absolute;left:570.8px;top:2234.4px;font-family:'Liberation Sans',sans-serif;font-size:37px;font-weight:400;line-height:37px;white-space:nowrap;color:#1b1f3b;transform:scaleX(1.1536);transform-origin:0 0;-webkit-text-stroke:0.7px #1b1f3b">Outlook Termine</span><span style="position:absolute;left:1655.6px;top:2232.9px;font-family:'Liberation Sans',sans-serif;font-size:34px;font-weight:400;line-height:34px;white-space:nowrap;color:#66666f;transform:scaleX(0.9100);transform-origin:0 0;">9 %</span><span style="position:absolute;left:2888.0px;top:2232.9px;font-family:'Liberation Sans',sans-serif;font-size:34px;font-weight:400;line-height:34px;white-space:nowrap;color:#66666f;transform:scaleX(0.9100);transform-origin:0 0;">6 %</span><span style="position:absolute;left:3299.2px;top:2232.9px;font-family:'Liberation Sans',sans-serif;font-size:34px;font-weight:400;line-height:34px;white-space:nowrap;color:#66666f;transform:scaleX(0.9100);transform-origin:0 0;">3 %</span><span style="position:absolute;left:534.7px;top:2352.1px;font-family:'Liberation Sans',sans-serif;font-size:36px;font-weight:400;line-height:36px;white-space:nowrap;color:#34375a;transform:scaleX(1.1667);transform-origin:0 0;">Outlook Termin</span><span style="position:absolute;left:2893.4px;top:2351.3px;font-family:'Liberation Sans',sans-serif;font-size:34px;font-weight:400;line-height:34px;white-space:nowrap;color:#66666f;transform:scaleX(0.9100);transform-origin:0 0;">0,5</span><span style="position:absolute;left:534.7px;top:2470.5px;font-family:'Liberation Sans',sans-serif;font-size:36px;font-weight:400;line-height:36px;white-space:nowrap;color:#34375a;transform:scaleX(1.1667);transform-origin:0 0;">Outlook Termin</span><span style="position:absolute;left:3304.2px;top:2469.7px;font-family:'Liberation Sans',sans-serif;font-size:34px;font-weight:400;line-height:34px;white-space:nowrap;color:#66666f;transform:scaleX(0.9100);transform-origin:0 0;">0,3</span>
</body></html>
